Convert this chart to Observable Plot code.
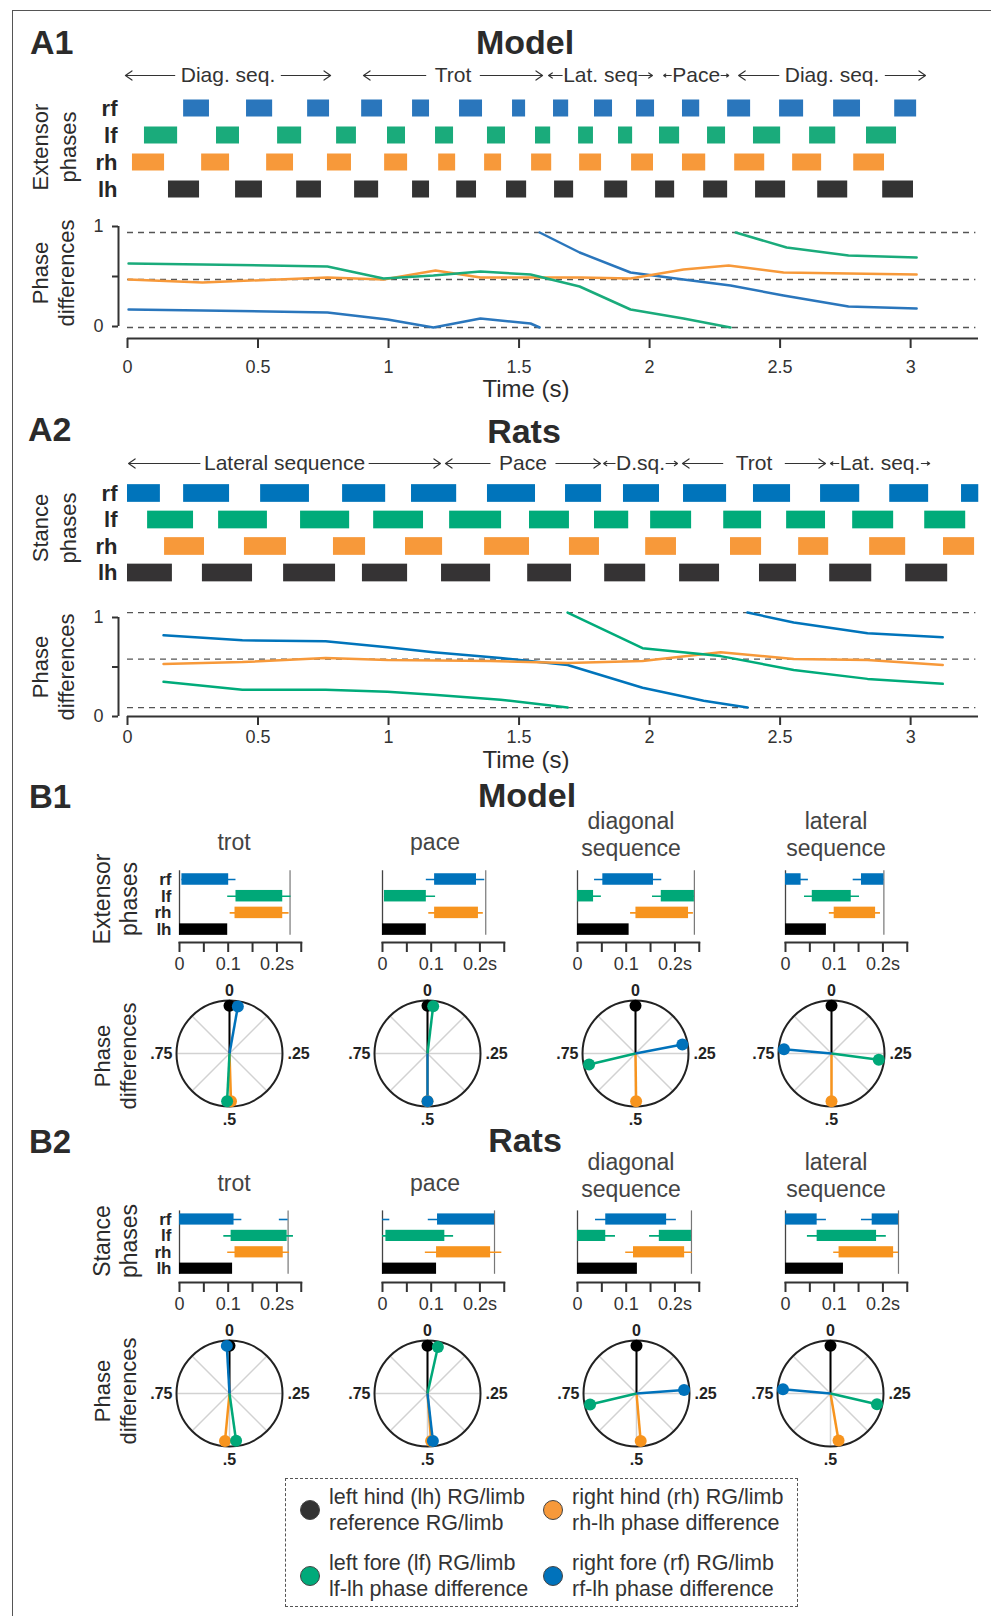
<!DOCTYPE html>
<html><head><meta charset="utf-8">
<script src="https://cdn.jsdelivr.net/npm/d3@7"></script>
<script src="https://cdn.jsdelivr.net/npm/@observablehq/plot@0.6"></script>
<style>
body{margin:0;background:#fff;}
#fig{position:relative;width:991px;height:1616px;overflow:hidden;font-family:"Liberation Sans",Arial,Helvetica,sans-serif;color:#2b2b2b;background:#fff;}
.t{position:absolute;white-space:nowrap;line-height:1;text-align:center;}
</style></head><body><div id="fig"></div>
<script>
// ---------------- DATA ----------------
const limbs = ["rf", "lf", "rh", "lh"];

// A1 (model) extensor phases, [start, end] in s
const a1Rf = [[0.215,0.314],[0.456,0.556],[0.690,0.774],[0.897,0.977],[1.092,1.157],[1.272,1.360],[1.475,1.525],[1.632,1.690],[1.789,1.858],[1.950,2.019],[2.126,2.192],[2.299,2.387],[2.498,2.590],[2.705,2.808],[2.939,3.023]];
const a1Lf = [[0.065,0.192],[0.341,0.429],[0.575,0.667],[0.801,0.877],[0.996,1.065],[1.180,1.249],[1.379,1.448],[1.563,1.621],[1.728,1.785],[1.881,1.935],[2.038,2.115],[2.222,2.291],[2.398,2.502],[2.613,2.713],[2.831,2.946]];
const a1Rh = [[0.019,0.142],[0.284,0.391],[0.533,0.636],[0.766,0.858],[0.985,1.073],[1.192,1.257],[1.368,1.433],[1.548,1.625],[1.732,1.816],[1.931,2.015],[2.126,2.215],[2.326,2.441],[2.548,2.659],[2.782,2.900]];
const a1Lh = [[0.157,0.276],[0.414,0.517],[0.648,0.743],[0.870,0.962],[1.092,1.157],[1.261,1.337],[1.452,1.529],[1.636,1.709],[1.828,1.916],[2.023,2.096],[2.207,2.299],[2.406,2.521],[2.644,2.759],[2.893,3.011]];
const a1Gaits = [
  {label: "Diag. seq.", start: -0.008, end: 0.778},
  {label: "Trot", start: 0.904, end: 1.590},
  {label: "Lat. seq", start: 1.613, end: 2.011},
  {label: "Pace", start: 2.054, end: 2.303},
  {label: "Diag. seq.", start: 2.341, end: 3.057}
];
// A1 phase differences: segments of [time, phase]
const a1RfPhase = [[[0.004,0.17],[0.287,0.16],[0.766,0.14],[0.996,0.07],[1.172,-0.01],[1.352,0.08],[1.544,0.03],[1.579,-0.01]],
                   [[1.579,0.94],[1.732,0.74],[1.927,0.54],[2.13,0.47],[2.31,0.41],[2.513,0.31],[2.762,0.20],[3.023,0.18]]];
const a1LfPhase = [[[0.004,0.63],[0.287,0.62],[0.766,0.60],[0.981,0.48],[1.172,0.51],[1.352,0.55],[1.544,0.52],[1.732,0.40],[1.927,0.17],[2.13,0.08],[2.31,-0.01]],
                   [[2.33,0.94],[2.525,0.79],[2.762,0.71],[3.023,0.69]]];
const a1RhPhase = [[[0.004,0.47],[0.287,0.44],[0.766,0.49],[0.981,0.47],[1.18,0.56],[1.352,0.49],[1.544,0.49],[1.736,0.49],[1.927,0.48],[2.13,0.57],[2.303,0.61],[2.513,0.54],[2.762,0.53],[3.023,0.52]]];
const a1Refs = [0.94, 0.47, -0.01];

// A2 (rats) stance phases
const a2Rf = [[0,0.126],[0.215,0.391],[0.510,0.697],[0.824,0.989],[1.088,1.261],[1.379,1.563],[1.678,1.816],[1.900,2.038],[2.130,2.295],[2.398,2.540],[2.655,2.805],[2.920,3.069],[3.195,3.261]];
const a2Lf = [[0.077,0.253],[0.349,0.536],[0.663,0.851],[0.943,1.134],[1.234,1.433],[1.540,1.693],[1.789,1.920],[2.004,2.161],[2.284,2.429],[2.525,2.674],[2.778,2.935],[3.054,3.211]];
const a2Rh = [[0.142,0.295],[0.448,0.609],[0.789,0.912],[1.065,1.207],[1.368,1.540],[1.693,1.808],[1.985,2.103],[2.310,2.429],[2.571,2.686],[2.843,2.981],[3.126,3.245]];
const a2Lh = [[0,0.172],[0.287,0.479],[0.598,0.797],[0.900,1.073],[1.203,1.391],[1.533,1.701],[1.828,1.985],[2.115,2.268],[2.421,2.563],[2.690,2.851],[2.981,3.142]];
const a2Gaits = [
  {label: "Lateral sequence", start: 0.004, end: 1.199},
  {label: "Pace", start: 1.218, end: 1.812},
  {label: "D.sq.", start: 1.824, end: 2.107},
  {label: "Trot", start: 2.126, end: 2.674},
  {label: "Lat. seq.", start: 2.693, end: 3.073}
];
const a2RfPhase = [[[0.138,0.82],[0.44,0.77],[0.759,0.76],[0.996,0.70],[1.172,0.65],[1.429,0.59],[1.686,0.52],[1.973,0.29],[2.207,0.16],[2.375,0.09]],
                   [[2.375,1.05],[2.552,0.95],[2.835,0.84],[3.123,0.80]]];
const a2LfPhase = [[[0.138,0.35],[0.44,0.27],[0.759,0.27],[0.996,0.25],[1.172,0.22],[1.429,0.17],[1.686,0.09]],
                   [[1.686,1.05],[1.973,0.69],[2.272,0.61],[2.552,0.47],[2.835,0.38],[3.123,0.33]]];
const a2RhPhase = [[[0.138,0.53],[0.44,0.55],[0.759,0.59],[0.996,0.57],[1.39,0.56],[1.686,0.54],[1.973,0.56],[2.272,0.65],[2.552,0.58],[2.835,0.57],[3.123,0.52]]];
const a2Refs = [1.05, 0.58, 0.09];

// B panels: [limb, barStart, barEnd, whiskerLo, whiskerHi] in s
const gaitNames = ["trot", "pace", "diagonal<br>sequence", "lateral<br>sequence"];
const b1Trot = [["rf",0.005,0.101,0.005,0.116],["lf",0.116,0.212,0.099,0.229],["rh",0.114,0.212,0.104,0.225],["lh",0,0.099,null,null]];
const b1Pace = [["rf",0.107,0.193,0.090,0.210],["lf",0.004,0.090,0.004,0.109],["rh",0.107,0.197,0.095,0.207],["lh",0,0.090,null,null]];
const b1Diag = [["rf",0.052,0.156,0.035,0.173],["lf",0,0.033,0,0.049],["lf",0.172,0.240,0.154,0.240],["rh",0.120,0.228,0.109,0.238],["lh",0,0.106,null,null]];
const b1Lat  = [["rf",0,0.032,0,0.047],["rf",0.156,0.202,0.139,0.202],["lf",0.055,0.135,0.039,0.152],["rh",0.100,0.185,0.090,0.195],["lh",0,0.084,null,null]];
const b1Periods = [0.227, 0.212, 0.240, 0.202];
const b2Trot = [["rf",0,0.112,0,0.128],["rf",null,null,0.205,0.223],["lf",0.106,0.221,0.091,0.234],["rh",0.114,0.213,0.099,0.226],["lh",0,0.109,null,null]];
const b2Pace = [["rf",0.113,0.230,0.094,0.230],["rf",null,null,0,0.015],["lf",0.007,0.128,0,0.146],["rh",0.111,0.222,0.088,0.245],["lh",0,0.111,null,null]];
const b2Diag = [["rf",0.058,0.183,0.037,0.203],["lf",0,0.058,0,0.078],["lf",0.168,0.234,0.148,0.234],["rh",0.115,0.220,0.099,0.236],["lh",0,0.123,null,null]];
const b2Lat  = [["rf",0,0.065,0,0.084],["rf",0.178,0.232,0.156,0.232],["lf",0.065,0.187,0.045,0.207],["rh",0.110,0.222,0.099,0.232],["lh",0,0.119,null,null]];
const b2Periods = [0.223, 0.230, 0.234, 0.232];

// phase differences relative to lh (cycle fraction)
const b1Phases = [
  {lh:0, rh:0.495, lf:0.508, rf:0.028},
  {lh:0, rh:0.500, lf:0.019, rf:0.500},
  {lh:0, rh:0.498, lf:0.713, rf:0.220},
  {lh:0, rh:0.500, lf:0.271, rf:0.764}
];
const b2Phases = [
  {lh:0, rh:0.515, lf:0.478, rf:0.991},
  {lh:0, rh:0.488, lf:0.035, rf:0.482},
  {lh:0, rh:0.486, lf:0.713, rf:0.238},
  {lh:0, rh:0.473, lf:0.286, rf:0.764}
];
const bAxisTicks = [0, 0.05, 0.1, 0.15, 0.2, 0.25];
const aAxisTicks = [0, 0.5, 1, 1.5, 2, 2.5, 3];
const polarLabels = [{phase:0,label:"0"},{phase:0.25,label:".25"},{phase:0.5,label:".5"},{phase:0.75,label:".75"}];
const spokeAngles = [0, 45, 90, 135];
const legendItems = [
  {limb:"lh", l1:"left hind (lh) RG/limb", l2:"reference RG/limb"},
  {limb:"rh", l1:"right hind (rh) RG/limb", l2:"rh-lh phase difference"},
  {limb:"lf", l1:"left fore (lf) RG/limb", l2:"lf-lh phase difference"},
  {limb:"rf", l1:"right fore (rf) RG/limb", l2:"rf-lh phase difference"}
];

// ---------------- STYLE / LAYOUT ----------------
const FONT = "'Liberation Sans', Arial, Helvetica, sans-serif";
const COL = {
  A1: {rf:"#2a76bc", lf:"#1aab7b", rh:"#f7993a", lh:"#333333"},
  A2: {rf:"#0074bb", lf:"#00ab7a", rh:"#f7993a", lh:"#353334"},
  B:  {rf:"#0072bb", lf:"#00a878", rh:"#f7941e", lh:"#000000"},
  L:  {rf:"#0072bb", lf:"#00aa7a", rh:"#f7993a", lh:"#333333"}
};
// gap (px) between each gait label and its arrows
const a1SegGaps = [6, 9, 1, 1, 6];
const a2SegGaps = [4, 9, 1, 13, 1];
const AX = {left: 127, right: 978, domain: [0, 3.26]};
const K = (AX.right - AX.left) / (AX.domain[1] - AX.domain[0]);
const fig = document.getElementById("fig");
const style = () => ({background: "transparent", fontFamily: FONT, overflow: "visible"});

function place(svg, left, top) {
  svg.style.position = "absolute";
  svg.style.left = left + "px";
  svg.style.top = top + "px";
  svg.style.maxWidth = "none";
  fig.appendChild(svg);
}
function txt(s, x, y, o = {}) {
  const d = document.createElement("div");
  d.className = "t";
  d.innerHTML = s;
  d.style.fontSize = (o.size || 20) + "px";
  d.style.fontWeight = o.weight || "normal";
  d.style.color = o.color || "#2b2b2b";
  if (o.lh) d.style.lineHeight = o.lh + "px";
  d.style.left = x + "px";
  d.style.top = y + "px";
  const ax = o.anchor === "start" ? "0" : "-50%";
  d.style.transform = `translate(${ax},-50%)` + (o.rotate ? ` rotate(${o.rotate}deg)` : "");
  fig.appendChild(d);
  return d;
}
function line(x, y, w, h, css) {
  const d = document.createElement("div");
  d.style.cssText = `position:absolute;left:${x}px;top:${y}px;width:${w}px;height:${h}px;${css}`;
  fig.appendChild(d);
}

// ---- A: gait diagram
function gaitPlot(bars, colors, g) {
  const p = 1 - g.barH / g.step;
  const boxTop = Math.floor(g.rfC - g.step);
  const r0 = (g.rfC - boxTop) - g.step * (1 + p) / 2;
  const r1 = r0 + g.step * (4 + p);
  const data = limbs.flatMap(l => bars[l].map(([s, e]) => ({limb: l, s, e})));
  const svg = Plot.plot({
    width: 991, height: Math.ceil(r1 + 4),
    marginLeft: AX.left, marginRight: 991 - AX.right, marginTop: 0, marginBottom: 0,
    style: style(),
    x: {domain: AX.domain, axis: null},
    y: {domain: limbs, range: [r0, r1], padding: p, round: false, axis: null},
    color: {type: "identity"},
    marks: [
      Plot.barX(data, {x1: "s", x2: "e", y: "limb", fill: d => colors[d.limb]}),
      Plot.text(limbs, {y: d => d, text: d => d, frameAnchor: "left", textAnchor: "end", dx: -10,
        fontSize: 22, fontWeight: "bold", fill: "#262626"})
    ]
  });
  place(svg, 0, boxTop);
}
// ---- A: gait segment labels
function segPlot(segs, gaps, segY) {
  const boxTop = segY - 16;
  const ctx = document.createElement("canvas").getContext("2d");
  ctx.font = `21px ${FONT}`;
  const arrows = segs.flatMap((d, i) => {
    const mid = (d.start + d.end) / 2;
    const hw = (ctx.measureText(d.label).width / 2 + gaps[i]) / K;
    return [{x1: mid - hw, x2: d.start}, {x1: mid + hw, x2: d.end}];
  });
  const svg = Plot.plot({
    width: 991, height: 32,
    marginLeft: AX.left, marginRight: 991 - AX.right, marginTop: 0, marginBottom: 0,
    style: style(),
    x: {domain: AX.domain, axis: null},
    y: {domain: [0, 1], range: [16, 17], axis: null},
    marks: [
      Plot.arrow(arrows, {x1: "x1", x2: "x2", y1: 0, y2: 0, stroke: "#333", strokeWidth: 1.2, headLength: 10, headAngle: 70}),
      Plot.text(segs, {x: d => (d.start + d.end) / 2, y: 0, text: "label", fontSize: 21, fill: "#333"})
    ]
  });
  place(svg, 0, boxTop);
}
// ---- A: phase difference plot
function phasePlot(series, refs, colors, g) {
  const boxTop = g.y1px - 25;
  const height = g.axisPx - boxTop + 45;
  const data = series.flatMap(s => s.segs.flatMap((seg, j) => seg.map(([t, v]) => ({key: s.limb + j, limb: s.limb, t, v}))));
  const yAxisVal = (g.y0px - g.axisPx) / (g.y0px - g.y1px);
  const xAxisVal = AX.domain[0] + (g.yAxisPx - AX.left) / K;
  const svg = Plot.plot({
    width: 991, height,
    marginLeft: g.yAxisPx, marginRight: 991 - AX.right, marginTop: 10, marginBottom: 45,
    style: style(),
    x: {domain: AX.domain, range: [AX.left, AX.right], axis: null},
    y: {domain: [0, 1], range: [g.y0px - boxTop, g.y1px - boxTop], axis: null},
    color: {type: "identity"},
    marks: [
      Plot.ruleY(refs, {x1: AX.domain[0], x2: 3.25, stroke: "#555", strokeWidth: 1.3, strokeDasharray: "6,5"}),
      Plot.line(data, {x: "t", y: "v", z: "key", stroke: d => colors[d.limb], strokeWidth: 2.5, strokeLinejoin: "round"}),
      Plot.ruleY([yAxisVal], {x1: AX.domain[0], x2: AX.domain[1], stroke: "#333", strokeWidth: 2}),
      Plot.ruleX([xAxisVal], {y1: 0, y2: 1, stroke: "#333", strokeWidth: 2}),
      Plot.axisY({ticks: [0, 0.5, 1], tickSize: 6, tickPadding: 9, fontSize: 18, color: "#333", strokeWidth: 2, label: null,
        tickFormat: d => d === 0.5 ? "" : String(d)}),
      Plot.axisX({ticks: aAxisTicks, tickSize: g.tickSize, tickPadding: g.tickPad, fontSize: 18, color: "#333", strokeWidth: 2, label: null,
        tickFormat: d => String(d)})
    ]
  });
  place(svg, 0, boxTop);
}
// ---- B: bar panel
function bPanel(rows, period, x0, g, showLabels) {
  const k = 487;
  const p = 1 - g.barH / g.step;
  const frameTop = g.rfC - g.barH / 2 - 3;
  const boxLeft = x0 - 45, boxTop = Math.floor(frameTop - 6);
  const width = 45 + 0.25 * k + 25;
  const height = Math.ceil(g.axisPx - boxTop + 42);
  const r0 = (g.rfC - boxTop) - g.step * (1 + p) / 2;
  const r1 = r0 + g.step * (4 + p);
  const lhBottom = g.rfC + 3 * g.step + g.barH / 2;
  const bars = rows.filter(r => r[1] != null).map(r => ({limb: r[0], s: r[1], e: r[2]}));
  const whisk = rows.filter(r => r[3] != null).map(r => ({limb: r[0], lo: r[3], hi: r[4]}));
  const near = (a, b) => Math.abs(a - b) < 1e-9;
  const svg = Plot.plot({
    width, height,
    marginLeft: 45, marginRight: width - 45 - 0.25 * k, marginTop: frameTop - boxTop, marginBottom: height - (g.axisPx - boxTop),
    style: style(),
    x: {domain: [0, 0.25], axis: null},
    y: {domain: limbs, range: [r0, r1], padding: p, round: false, axis: null},
    color: {type: "identity"},
    marks: [
      Plot.ruleX([0], {stroke: "#444", strokeWidth: 1.3, insetBottom: g.axisPx - lhBottom}),
      Plot.ruleX([period], {stroke: "#777", strokeWidth: 1.2, insetBottom: g.axisPx - lhBottom}),
      Plot.ruleY(whisk, {y: "limb", x1: "lo", x2: "hi", stroke: d => COL.B[d.limb], strokeWidth: 1.6}),
      Plot.barX(bars, {x1: "s", x2: "e", y: "limb", fill: d => COL.B[d.limb]}),
      Plot.frame({anchor: "bottom", stroke: "#333", strokeWidth: 2}),
      Plot.axisX({ticks: bAxisTicks, tickSize: 10, tickPadding: 5, fontSize: 18, color: "#333", strokeWidth: 2, label: null,
        tickFormat: d => near(d, 0) ? "0" : near(d, 0.1) ? "0.1" : near(d, 0.2) ? "0.2s" : ""}),
      showLabels ? Plot.text(limbs, {y: d => d, text: d => d, frameAnchor: "left", textAnchor: "end", dx: -8,
        fontSize: 17, fontWeight: "bold", fill: "#262626"}) : null
    ]
  });
  place(svg, boxLeft, boxTop);
}
// ---- B: polar phase plot
function polar(ph, cx, cy) {
  const R = 53, S = 100, rr = 0.9;
  const vecs = ["lh", "rh", "lf", "rf"].map(l => ({limb: l, phase: ph[l]}));
  const X = (d, r) => r * Math.sin(2 * Math.PI * d.phase);
  const Y = (d, r) => r * Math.cos(2 * Math.PI * d.phase);
  const lab = (i, o) => Plot.text([polarLabels[i]], {x: d => X(d, 1), y: d => Y(d, 1), text: "label",
    fontSize: 16, fontWeight: "bold", fill: "#222", ...o});
  const svg = Plot.plot({
    width: 2 * S, height: 2 * S, margin: 0,
    style: style(),
    x: {domain: [-1, 1], range: [S - R, S + R], axis: null},
    y: {domain: [-1, 1], range: [S + R, S - R], axis: null},
    color: {type: "identity"},
    marks: [
      Plot.link(spokeAngles, {x1: a => -Math.sin(a * Math.PI / 180), y1: a => -Math.cos(a * Math.PI / 180),
        x2: a => Math.sin(a * Math.PI / 180), y2: a => Math.cos(a * Math.PI / 180), stroke: "#d2d2d2", strokeWidth: 1.5}),
      Plot.dot([[0, 0]], {r: R, stroke: "#222", strokeWidth: 2, fill: "none"}),
      Plot.link(vecs.filter(d => d.limb === "lh"), {x1: 0, y1: 0, x2: d => X(d, rr), y2: d => Y(d, rr), stroke: COL.B.lh, strokeWidth: 2}),
      Plot.link(vecs.filter(d => d.limb !== "lh"), {x1: 0, y1: 0, x2: d => X(d, rr), y2: d => Y(d, rr), stroke: d => COL.B[d.limb], strokeWidth: 2.5}),
      Plot.dot(vecs, {x: d => X(d, rr), y: d => Y(d, rr), r: 6, fill: d => COL.B[d.limb]}),
      lab(0, {dy: -10}),
      lab(1, {textAnchor: "start", dx: 5}),
      lab(2, {dy: 13}),
      lab(3, {textAnchor: "end", dx: -4})
    ]
  });
  place(svg, cx - S, cy - S);
}

// ---------------- DRAW ----------------
line(12, 10, 979, 0, "border-top:1.5px solid #555");
line(12, 10, 0, 1606, "border-left:1.5px solid #555");

// A1
txt("A1", 30, 42, {size: 34, weight: "bold", anchor: "start"});
txt("Model", 525, 42, {size: 34, weight: "bold"});
segPlot(a1Gaits, a1SegGaps, 75);
gaitPlot({rf: a1Rf, lf: a1Lf, rh: a1Rh, lh: a1Lh}, COL.A1, {rfC: 108, step: 27, barH: 17});
txt("Extensor<br>phases", 55, 147, {size: 22, lh: 28, rotate: -90});
phasePlot([{limb: "rf", segs: a1RfPhase}, {limb: "rh", segs: a1RhPhase}, {limb: "lf", segs: a1LfPhase}], a1Refs, COL.A1,
  {y1px: 226, y0px: 326, axisPx: 338, yAxisPx: 118, tickSize: 10, tickPad: 12});
txt("Phase<br>differences", 54, 273, {size: 22, lh: 26, rotate: -90});
txt("Time (s)", 526, 389, {size: 24});

// A2
txt("A2", 28, 429, {size: 34, weight: "bold", anchor: "start"});
txt("Rats", 524, 431, {size: 34, weight: "bold"});
segPlot(a2Gaits, a2SegGaps, 463);
gaitPlot({rf: a2Rf, lf: a2Lf, rh: a2Rh, lh: a2Lh}, COL.A2, {rfC: 493, step: 26.5, barH: 17.7});
txt("Stance<br>phases", 55, 528, {size: 22, lh: 28, rotate: -90});
phasePlot([{limb: "rf", segs: a2RfPhase}, {limb: "rh", segs: a2RhPhase}, {limb: "lf", segs: a2LfPhase}], a2Refs, COL.A2,
  {y1px: 617, y0px: 716, axisPx: 716, yAxisPx: 118, tickSize: 9, tickPad: 5});
txt("Phase<br>differences", 54, 667, {size: 22, lh: 26, rotate: -90});
txt("Time (s)", 526, 760, {size: 24});

// B
const bX0 = [178.5, 382, 577, 785];
const titleX = [234, 435, 631, 836];
const polarX1 = [229, 427, 635, 831];
const polarX2 = [229, 427, 636, 830];
const b1Rows = [b1Trot, b1Pace, b1Diag, b1Lat];
const b2Rows = [b2Trot, b2Pace, b2Diag, b2Lat];

txt("B1", 29, 796, {size: 33, weight: "bold", anchor: "start"});
txt("Model", 527, 795, {size: 34, weight: "bold"});
txt("Extensor<br>phases", 116, 899, {size: 23, lh: 27, rotate: -90});
txt("Phase<br>differences", 116, 1056, {size: 22, lh: 26, rotate: -90});
gaitNames.forEach((n, i) => {
  const two = n.includes("<br>");
  txt(n, titleX[i], two ? 835 : 842, {size: 23, lh: 27, color: "#444"});
  bPanel(b1Rows[i], b1Periods[i], bX0[i], {rfC: 879, step: 16.7, barH: 11.5, axisPx: 942}, i === 0);
  polar(b1Phases[i], polarX1[i], 1053);
});

txt("B2", 29, 1141, {size: 33, weight: "bold", anchor: "start"});
txt("Rats", 525, 1140, {size: 34, weight: "bold"});
txt("Stance<br>phases", 116, 1241, {size: 23, lh: 27, rotate: -90});
txt("Phase<br>differences", 116, 1391, {size: 22, lh: 26, rotate: -90});
gaitNames.forEach((n, i) => {
  const two = n.includes("<br>");
  txt(n, titleX[i], two ? 1176 : 1183, {size: 23, lh: 27, color: "#444"});
  bPanel(b2Rows[i], b2Periods[i], bX0[i], {rfC: 1219, step: 16.4, barH: 11.2, axisPx: 1282}, i === 0);
  polar(b2Phases[i], polarX2[i], 1393);
});

// Legend
line(285, 1478, 513, 129, "border:1.5px dashed #555;box-sizing:border-box");
const legPos = [[310, 1510], [553, 1510], [310, 1576], [553, 1576]];
legendItems.forEach((it, i) => {
  const [x, y] = legPos[i];
  line(x - 10, y - 10, 20, 20, `border-radius:50%;background:${COL.L[it.limb]};border:1px solid #444;box-sizing:border-box`);
  const d = txt(it.l1 + "<br>" + it.l2, x + 19, y, {size: 21.5, lh: 26, anchor: "start", color: "#333"});
  d.style.textAlign = "left";
});
</script></body></html>
